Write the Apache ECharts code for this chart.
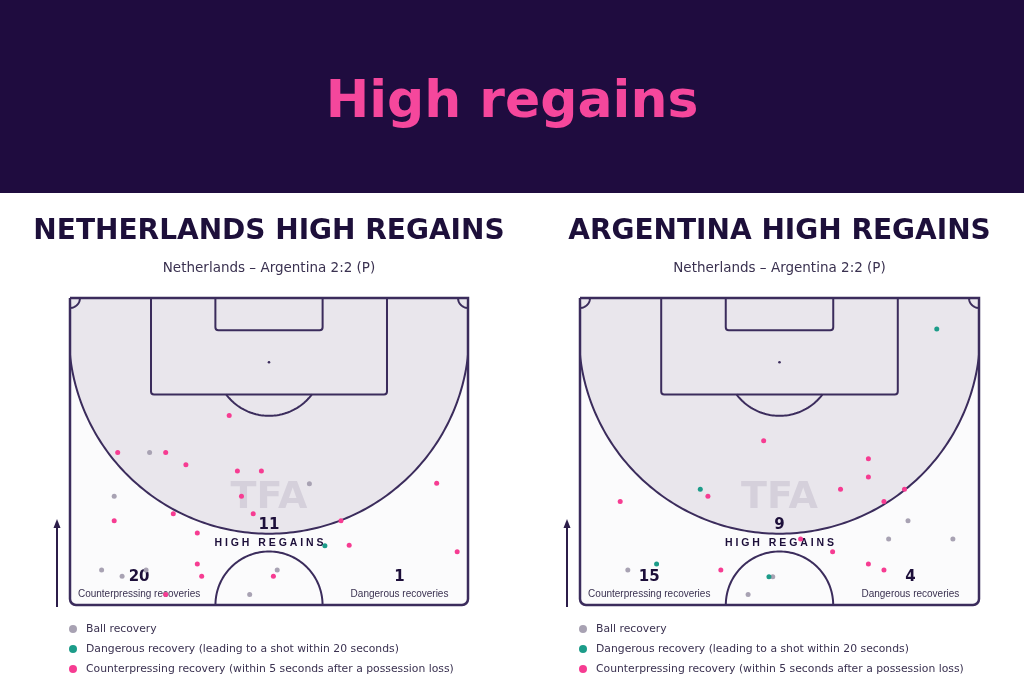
<!DOCTYPE html>
<html><head><meta charset="utf-8">
<script src="https://cdn.jsdelivr.net/npm/echarts/dist/echarts.min.js"></script>
<style>html,body{margin:0;padding:0;background:#ffffff}#c{width:1024px;height:683px}</style>
</head><body><div id="c"></div><script>
// ---- data (pitch metres: x across 0..68, y from goal line 0..52.5) ----
const headerTitle = 'High regains';
const panelTitles = ['NETHERLANDS HIGH REGAINS', 'ARGENTINA HIGH REGAINS'];
const matchLabel = 'Netherlands – Argentina 2:2 (P)';
const highRegainCounts = [11, 9];
const counterCounts = [20, 15];
const dangerCounts = [1, 4];
const seriesNames = ['Ball recovery', 'Dangerous recovery (leading to a shot within 20 seconds)', 'Counterpressing recovery (within 5 seconds after a possession loss)'];

const nedBall = [[13.6,26.4],[40.9,31.75],[7.55,33.9],[5.4,46.5],[8.9,47.6],[13.0,46.5],[35.4,46.5],[30.7,50.7]];
const nedDanger = [[43.55,42.35]];
const nedCounter = [[27.2,20.1],[8.15,26.4],[16.35,26.4],[19.8,28.5],[28.6,29.6],[32.7,29.6],[62.65,31.7],[29.3,33.9],[7.55,38.1],[17.65,36.9],[31.3,36.9],[46.3,38.1],[21.75,40.2],[47.7,42.3],[66.15,43.4],[21.75,45.5],[22.5,47.6],[34.75,47.6],[16.35,50.7]];

const argBall = [[55.9,38.1],[52.6,41.2],[63.55,41.2],[8.15,46.5],[32.85,47.65],[28.65,50.7]];
const argDanger = [[60.8,5.3],[20.5,32.7],[13.05,45.5],[32.2,47.65]];
const argCounter = [[31.3,24.4],[49.15,27.5],[49.15,30.6],[21.8,33.9],[44.4,32.7],[55.3,32.7],[6.85,34.8],[51.8,34.8],[37.6,41.2],[43.05,43.4],[49.15,45.5],[24.0,46.5],[51.8,46.5]];

const teamPoints = [[nedBall, nedDanger, nedCounter], [argBall, argDanger, argCounter]];

// ---- pitch geometry (metres) ----
const FW = 68, FL = 52.5;
const ZONE_CY = 6.1, ZONE_R = 34.2;

const colors = ['#a8a2b3', '#1c9c89', '#f63c92'];
const lineCol = '#3b2c5c';
const darkText = '#1d0f3a';
const midText = '#3a3150';

function clamp(v, a, b) { return Math.max(a, Math.min(b, v)); }

function makeRender(ti) {
  return function (params, api) {
    const c = (x, y) => api.coord([x, y]);
    const p0 = c(0, 0), p1 = c(FW, FL);
    const ch = [];
    const ls = { stroke: lineCol, lineWidth: 2, fill: null };
    ch.push({ type: 'rect', shape: { x: p0[0], y: p0[1], width: p1[0] - p0[0], height: p1[1] - p0[1], r: [0, 0, 6, 6] }, style: { fill: '#fbfbfc' } });
    // high-regain zone
    const zp = [];
    for (let i = 0; i <= 360; i += 2) {
      const a = i * Math.PI / 180;
      zp.push(c(clamp(FW / 2 + ZONE_R * Math.cos(a), 0, FW), clamp(ZONE_CY + ZONE_R * Math.sin(a), 0, FL)));
    }
    ch.push({ type: 'polygon', shape: { points: zp }, style: { fill: '#e9e6ec' } });
    const zl = [];
    for (let i = 0; i <= 180; i += 1) {
      const a = i * Math.PI / 180;
      zl.push(c(clamp(FW / 2 + ZONE_R * Math.cos(a), 0, FW), clamp(ZONE_CY + ZONE_R * Math.sin(a), 0, FL)));
    }
    ch.push({ type: 'polyline', shape: { points: zl }, style: Object.assign({}, ls) });
    // boxes
    const b0 = c(13.84, 0), b1 = c(54.16, 16.5);
    ch.push({ type: 'rect', shape: { x: b0[0], y: b0[1], width: b1[0] - b0[0], height: b1[1] - b0[1], r: [0, 0, 3, 3] }, style: Object.assign({}, ls) });
    const s0 = c(24.84, 0), s1 = c(43.16, 5.5);
    ch.push({ type: 'rect', shape: { x: s0[0], y: s0[1], width: s1[0] - s0[0], height: s1[1] - s0[1], r: [0, 0, 3, 3] }, style: Object.assign({}, ls) });
    const sp = c(FW / 2, 11);
    ch.push({ type: 'circle', shape: { cx: sp[0], cy: sp[1], r: 1.3 }, style: { fill: lineCol } });
    // penalty arc
    const pa = [];
    const a0 = Math.asin(5.5 / 9.15);
    for (let i = 0; i <= 60; i++) {
      const a = a0 + (Math.PI - 2 * a0) * i / 60;
      pa.push(c(FW / 2 + 9.15 * Math.cos(a), 11 + 9.15 * Math.sin(a)));
    }
    ch.push({ type: 'polyline', shape: { points: pa }, style: Object.assign({}, ls) });
    // centre circle (half)
    const cc = [];
    for (let i = 0; i <= 90; i++) {
      const a = Math.PI * i / 90;
      cc.push(c(FW / 2 + 9.15 * Math.cos(a), FL - 9.15 * Math.sin(a)));
    }
    ch.push({ type: 'polyline', shape: { points: cc }, style: Object.assign({}, ls) });
    // corner arcs
    const k1 = [], k2 = [];
    for (let i = 0; i <= 20; i++) {
      const a = Math.PI / 2 * i / 20;
      k1.push(c(1.7 * Math.cos(a), 1.7 * Math.sin(a)));
      k2.push(c(FW - 1.7 * Math.cos(a), 1.7 * Math.sin(a)));
    }
    ch.push({ type: 'polyline', shape: { points: k1 }, style: Object.assign({}, ls) });
    ch.push({ type: 'polyline', shape: { points: k2 }, style: Object.assign({}, ls) });
    // outer border
    ch.push({ type: 'rect', shape: { x: p0[0], y: p0[1], width: p1[0] - p0[0], height: p1[1] - p0[1], r: [0, 0, 6, 6] }, style: { stroke: lineCol, lineWidth: 2.5, fill: null } });
    // texts
    function txt(x, y, t, font, fill) {
      const p = c(x, y);
      return { type: 'text', x: p[0], y: p[1], style: { text: t, font: font, fill: fill, align: 'center', verticalAlign: 'middle', textAlign: 'center', textVerticalAlign: 'middle' } };
    }
    ch.push(txt(FW / 2, 34.2, 'TFA', 'bold 38px "DejaVu Sans"', '#d5d0db'));
    ch.push(txt(FW / 2, 38.8, String(highRegainCounts[ti]), 'bold 15px "DejaVu Sans"', darkText));
    ch.push(txt(FW / 2, 42.0, 'H I G H   R E G A I N S', 'bold 10.5px "Liberation Sans"', darkText));
    ch.push(txt(11.8, 47.7, String(counterCounts[ti]), 'bold 15px "DejaVu Sans"', darkText));
    ch.push(txt(11.8, 50.6, 'Counterpressing recoveries', '10px "Liberation Sans"', midText));
    ch.push(txt(56.3, 47.7, String(dangerCounts[ti]), 'bold 15px "DejaVu Sans"', darkText));
    ch.push(txt(56.3, 50.6, 'Dangerous recoveries', '10px "Liberation Sans"', midText));
    return { type: 'group', children: ch };
  };
}

const grids = [
  { left: 70, top: 298, width: 398, height: 307 },
  { left: 580, top: 298, width: 399, height: 307 }
];
const xAxes = grids.map((g, i) => ({ gridIndex: i, type: 'value', min: 0, max: FW, show: false }));
const yAxes = grids.map((g, i) => ({ gridIndex: i, type: 'value', min: 0, max: FL, inverse: true, show: false }));

const series = [];
for (let t = 0; t < 2; t++) {
  series.push({ type: 'custom', xAxisIndex: t, yAxisIndex: t, data: [[0, 0]], renderItem: makeRender(t), clip: false, silent: true, z: 1 });
  for (let k = 0; k < 3; k++) {
    series.push({ type: 'scatter', name: seriesNames[k], xAxisIndex: t, yAxisIndex: t, data: teamPoints[t][k], symbolSize: 5, itemStyle: { color: colors[k], opacity: 1 }, z: 3 + k, silent: true });
  }
}

const legendBase = { orient: 'vertical', top: 622, padding: 0, itemWidth: 12, itemHeight: 8, itemGap: 6, icon: 'circle', selectedMode: false, data: seriesNames, textStyle: { fontFamily: 'DejaVu Sans', fontSize: 10.8, color: midText, lineHeight: 14, padding: [0, 0, 0, 2] } };

const graphic = [
  { type: 'rect', shape: { x: 0, y: 0, width: 1024, height: 193 }, style: { fill: '#1f0c3f' }, z: 0 },
  { type: 'text', x: 512, y: 103, style: { text: headerTitle, font: 'bold 52px "DejaVu Sans"', fill: '#f5479c', align: 'center', verticalAlign: 'middle', textAlign: 'center', textVerticalAlign: 'middle' } }
];
[269, 779.5].forEach((cx, i) => {
  graphic.push({ type: 'text', x: cx, y: 232, style: { text: panelTitles[i], font: 'bold 28px "DejaVu Sans"', fill: darkText, align: 'center', verticalAlign: 'middle', textAlign: 'center', textVerticalAlign: 'middle' } });
  graphic.push({ type: 'text', x: cx, y: 268, style: { text: matchLabel, font: '13.5px "DejaVu Sans"', fill: midText, align: 'center', verticalAlign: 'middle', textAlign: 'center', textVerticalAlign: 'middle' } });
});
[57, 567].forEach(ax => {
  graphic.push({ type: 'line', shape: { x1: ax, y1: 607, x2: ax, y2: 526 }, style: { stroke: '#2c1d4a', lineWidth: 2 } });
  graphic.push({ type: 'polygon', shape: { points: [[ax, 519], [ax - 3.5, 528], [ax + 3.5, 528]] }, style: { fill: '#2c1d4a' } });
});

const chart = echarts.init(document.getElementById('c'), null, { renderer: 'canvas' });
chart.setOption({
  animation: false,
  backgroundColor: '#ffffff',
  grid: grids,
  xAxis: xAxes,
  yAxis: yAxes,
  legend: [Object.assign({ left: 69 }, legendBase), Object.assign({ left: 579 }, legendBase)],
  graphic: graphic,
  series: series
});
</script></body></html>
